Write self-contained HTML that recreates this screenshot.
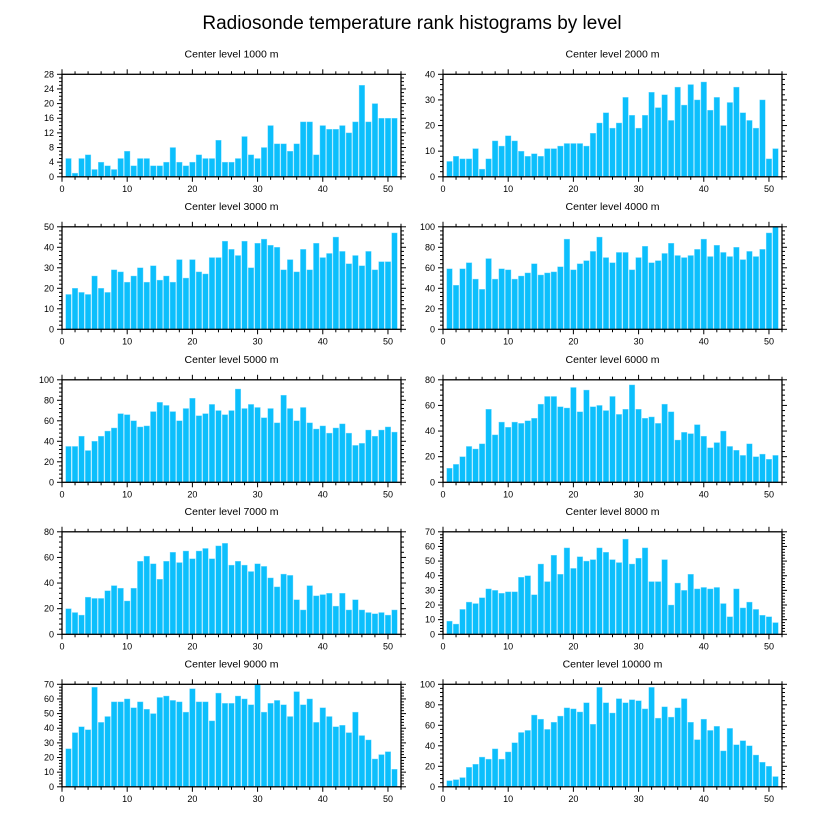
<!DOCTYPE html>
<html><head><meta charset="utf-8"><style>
body{margin:0;background:#fff;}
svg{display:block;font-family:"Liberation Sans",sans-serif;}
</style></head><body>
<svg id="chart" width="824" height="824" viewBox="0 0 824 824">
<text x="412" y="29" text-anchor="middle" font-size="19">Radiosonde temperature rank histograms by level</text>
</svg>
<script>
const levels = ["1000","2000","3000","4000","5000","6000","7000","8000","9000","10000"];
const yMax = [28,40,50,100,100,80,80,70,70,100];
const yStep = [4,10,10,20,20,20,20,10,10,20];
const xTicks = [0,10,20,30,40,50];
const v1000 = [5,1,5,6,2,4,3,2,5,7,3,5,5,3,3,4,8,4,3,4,6,5,5,10,4,4,5,11,6,5,8,14,9,9,7,9,15,15,6,14,13,13,14,12,15,25,15,20,16,16,16];
const v2000 = [6,8,7,7,11,3,7,14,12,16,14,10,8,9,8,11,11,12,13,13,13,12,17,21,25,19,21,31,24,19,24,33,27,32,22,35,28,36,30,37,26,31,20,29,35,25,22,19,30,7,11];
const v3000 = [17,20,18,17,26,20,18,29,28,23,26,30,23,31,24,26,23,34,25,34,28,27,35,35,43,39,36,43,30,42,44,41,40,29,34,28,39,29,42,35,37,45,38,32,36,31,38,29,33,33,47];
const v4000 = [59,43,59,65,49,39,69,49,59,58,49,52,55,64,53,55,56,61,88,58,64,67,76,90,70,65,75,75,58,70,81,65,67,74,84,72,70,72,78,88,71,82,75,71,80,68,76,71,78,94,100];
const v5000 = [35,35,45,31,40,45,50,53,67,66,60,54,55,69,78,75,69,60,72,82,65,67,76,70,66,70,91,72,76,73,63,72,58,85,72,60,73,58,52,55,48,53,57,48,36,38,51,45,51,54,49];
const v6000 = [11,14,20,28,26,30,57,37,47,43,47,46,48,50,61,67,67,59,58,74,55,72,59,60,56,67,53,57,76,57,50,51,46,61,55,33,39,38,45,36,27,31,40,28,25,21,30,20,22,18,21];
const v7000 = [20,17,15,29,28,28,34,38,36,26,36,57,61,55,43,57,64,56,65,59,65,67,59,69,71,54,57,54,49,55,53,44,37,47,46,27,19,38,30,31,32,22,32,19,27,19,17,16,17,15,19];
const v8000 = [9,7,17,22,21,25,31,30,28,29,29,39,40,27,48,36,54,41,59,45,53,50,51,59,56,51,49,65,48,52,59,36,36,51,20,35,30,41,31,32,31,32,21,12,31,18,22,17,13,12,8];
const v9000 = [26,37,41,39,68,44,48,58,58,60,54,58,53,50,61,62,59,58,51,67,58,58,45,64,57,57,62,60,56,70,51,57,59,56,48,65,56,60,44,54,48,41,42,37,51,35,32,19,22,24,12];
const v10000 = [6,7,9,19,22,29,27,37,27,34,43,53,55,70,66,56,63,69,77,76,73,82,61,97,82,72,86,82,85,84,76,97,67,78,68,77,86,63,46,66,55,59,35,57,41,45,40,31,24,20,10];
const series = [v1000,v2000,v3000,v4000,v5000,v6000,v7000,v8000,v9000,v10000];

const NS="http://www.w3.org/2000/svg";
const svg=document.getElementById('chart');
function mk(tag,attrs,parent){const e=document.createElementNS(NS,tag);for(const k in attrs)e.setAttribute(k,attrs[k]);parent.appendChild(e);return e;}
const lefts=[62,443], W=339, H=102.5, tops=[74.3,226.8,379.8,531.8,684.3];
for(let p=0;p<10;p++){
  const L=lefts[p%2], T=tops[Math.floor(p/2)], B=T+H;
  const g=mk('g',{},svg);
  
  
  const xs=v=>L+v/52*W, ys=v=>B-v/yMax[p]*H;
  const t=mk('text',{x:L+W/2,y:T-17,'text-anchor':'middle','font-size':'10.5'},g);
  t.textContent='Center level '+levels[p]+' m';
  
  
  const vals=series[p];
  vals.forEach((v,i)=>{
    const x=xs(i+1-0.43), w=0.86/52*W;
    const r=mk('rect',{x:x,y:ys(v),width:w,height:B-ys(v),fill:'#0cbffc',stroke:'#7fdcff','stroke-width':'0.4'},g);
    
    
  });
  const fr=mk('rect',{x:L,y:T,width:W,height:H,fill:'none',stroke:'#000','stroke-width':'1.3'},g);
  
  
  // x ticks
  for(let v=0;v<=52;v+=2){
    const maj=v%10===0, len=maj?5:3, x=xs(v);
    mk('line',{x1:x,x2:x,y1:B,y2:B+len,stroke:'#000','stroke-width':'1'},g);
    mk('line',{x1:x,x2:x,y1:T,y2:T-len,stroke:'#000','stroke-width':'1'},g);
  }
  xTicks.forEach(v=>{
    const tl=mk('text',{x:xs(v),y:B+15,'text-anchor':'middle','font-size':'9'},g);
    tl.textContent=v;
    
    
  });
  // y ticks
  const minor=yStep[p]===4?1:yStep[p]/5;
  for(let v=0;v<=yMax[p]+1e-9;v+=minor){
    const maj=Math.abs(v/yStep[p]-Math.round(v/yStep[p]))<1e-6, len=maj?5:3, y=ys(v);
    mk('line',{x1:L,x2:L-len,y1:y,y2:y,stroke:'#000','stroke-width':'1'},g);
    mk('line',{x1:L+W,x2:L+W+len,y1:y,y2:y,stroke:'#000','stroke-width':'1'},g);
    if(maj){
      const yl=mk('text',{x:L-8,y:y+3,'text-anchor':'end','font-size':'9'},g);
      yl.textContent=Math.round(v);
      
      
    }
  }
}
</script>
</body></html>
